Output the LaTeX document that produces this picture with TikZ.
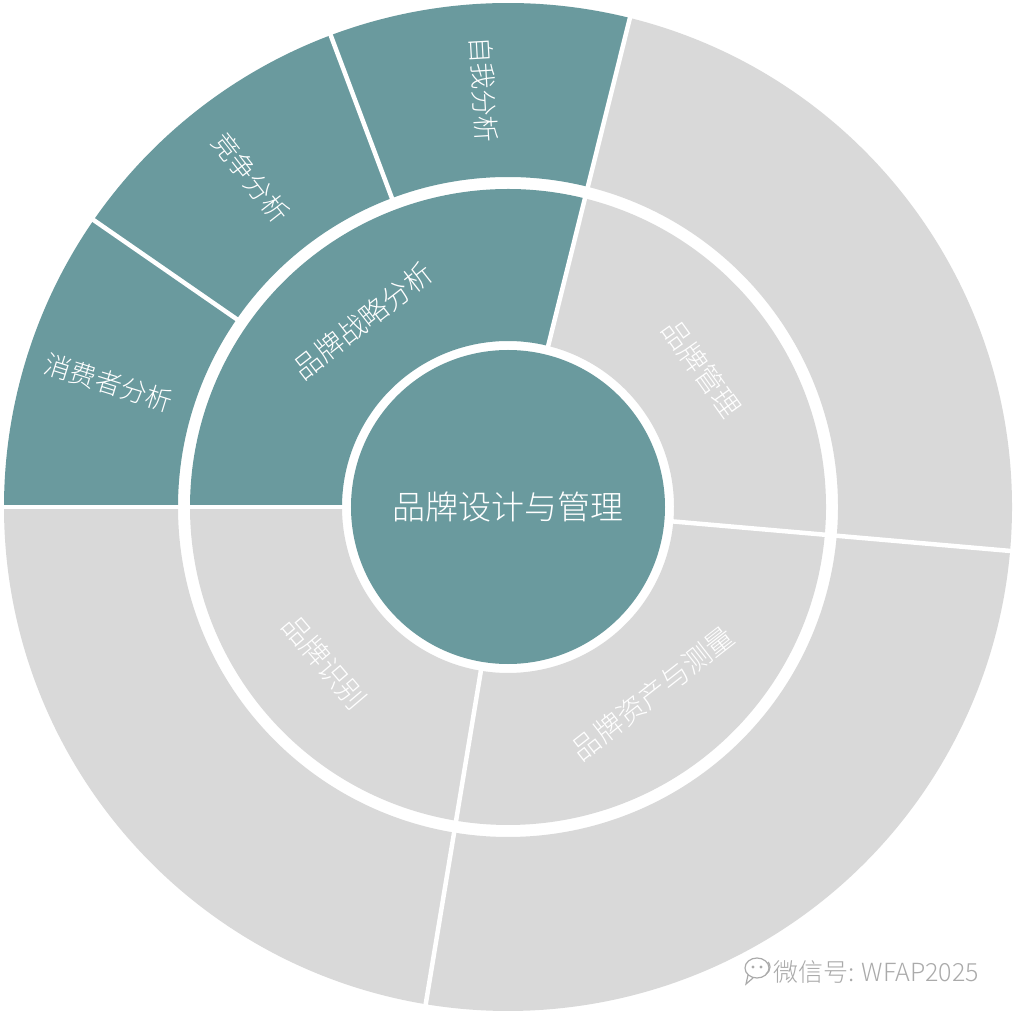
\documentclass[tikz,border=0pt]{standalone}
\usepackage{fontspec}
\newfontfamily\cjk{Noto Sans CJK SC}[UprightFont=* Light]
\definecolor{tealc}{RGB}{106,154,158}
\definecolor{lgray}{RGB}{217,217,217}
\definecolor{wm}{RGB}{170,170,170}
\newcommand\ringsector[5]{%
  \fill[#1] (#2:#4) arc[start angle=#2, end angle=#3, radius=#4] -- (#3:#5) arc[start angle=#3, end angle=#2, radius=#5] -- cycle;}
\begin{document}
\begin{tikzpicture}[x=1pt,y=1pt,
  sep/.style={draw=white, line width=4.5pt},
  outlab/.style={text=white, font=\cjk\fontsize{26.5}{30}\selectfont, inner sep=0pt},
  inlab/.style={text=white, font=\cjk\fontsize{28}{32}\selectfont, inner sep=0pt},
  ctrlab/.style={text=white, font=\cjk\fontsize{33}{38}\selectfont, inner sep=0pt}]
\useasboundingbox (-508,-509) rectangle (508,507);
\fill[white] (-508,-509) rectangle (508,507);
% outer ring
\ringsector{tealc}{145.3}{180}{330}{504}
\ringsector{tealc}{110.6}{145.3}{330}{504}
\ringsector{tealc}{76}{110.6}{330}{504}
\ringsector{lgray}{-5}{76}{330}{504}
\ringsector{lgray}{-99.4}{-5}{330}{504}
\ringsector{lgray}{-180}{-99.4}{330}{504}
% inner ring
\ringsector{tealc}{76}{180}{166}{318}
\ringsector{lgray}{-5}{76}{166}{318}
\ringsector{lgray}{-99.4}{-5}{166}{318}
\ringsector{lgray}{-180}{-99.4}{166}{318}
% separators
\foreach \a in {180,76,-5,-99.4} {\draw[sep] (\a:163) -- (\a:321);}
\foreach \a in {180,145.3,110.6,76,-5,-99.4} {\draw[sep] (\a:327) -- (\a:507);}
% centre
\fill[tealc] (0,0) circle[radius=157];
\node[ctrlab] (c) at (0,0) {品牌设计与管理};
% inner labels
\node[inlab, rotate=38] (s1) at (128:236) {品牌战略分析};
\node[inlab, rotate=-54.5] (s2) at (35.5:238) {品牌管理};
\node[inlab, rotate=38] (s3) at (-52.2:236) {品牌资产与测量};
\node[inlab, rotate=-49.7] (s4) at (-139.7:240) {品牌识别};
% outer labels
\node[outlab, rotate=-86.7] (o1) at (93.3:418) {自我分析};
\node[outlab, rotate=-52] (o2) at (128:418) {竞争分析};
\node[outlab, rotate=-17.3] (o3) at (162.7:418) {消费者分析};
% watermark
\node[text=wm, font=\cjk\fontsize{25}{28}\selectfont, inner sep=0pt, anchor=west] (wmt) at (265,-465) {微信号: WFAP2025};
\begin{scope}[draw=wm, line width=1.2pt]
  \draw (249,-461) ellipse[x radius=12, y radius=10];
  \draw (240,-468) -- (238,-477) -- (245,-471);
  \fill[wm] (245,-460) circle[radius=1.6];
  \fill[wm] (253,-460) circle[radius=1.6];
  \draw (258,-467) arc[start angle=-60, end angle=40, radius=8];
\end{scope}
\end{tikzpicture}
\end{document}
